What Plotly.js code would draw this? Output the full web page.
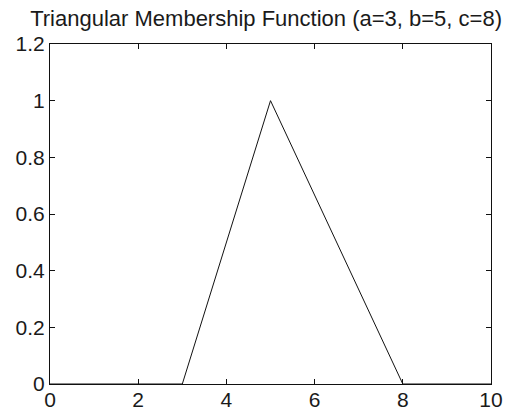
<!DOCTYPE html>
<html>
<head>
<meta charset="utf-8">
<script src="https://cdn.plot.ly/plotly-3.0.1.min.js"></script>
<style>
  html, body { margin: 0; padding: 0; background: #fff; }
  #chart { width: 508px; height: 414px; }
</style>
</head>
<body>
<div id="chart"></div>
<script>
// Triangular membership function with a=3, b=5, c=8
const xValues = [0, 3, 5, 8, 10];
const muValues = [0, 0, 1, 0, 0];
const xTicks = [0, 2, 4, 6, 8, 10];
const yTicks = [0, 0.2, 0.4, 0.6, 0.8, 1, 1.2];

const FONT = 'Liberation Sans, Arial, Helvetica, sans-serif';

const trace = {
  x: xValues,
  y: muValues,
  type: 'scatter',
  mode: 'lines',
  line: { color: '#111', width: 1 },
  hoverinfo: 'none'
};

const axisStyle = {
  showgrid: false,
  zeroline: false,
  showline: true,
  mirror: 'ticks',
  linecolor: '#111',
  linewidth: 1,
  ticks: 'inside',
  ticklen: 5,
  tickwidth: 1,
  tickcolor: '#111',
  tickfont: { family: FONT, size: 21, color: '#1a1a1a' }
};

const layout = {
  width: 508,
  height: 414,
  margin: { l: 50, r: 17, t: 44, b: 30, pad: 0 },
  paper_bgcolor: '#fff',
  plot_bgcolor: '#fff',
  showlegend: false,
  title: {
    text: 'Triangular Membership Function (a=3, b=5, c=8)',
    font: { family: FONT, size: 22, color: '#1a1a1a' },
    xref: 'paper',
    x: 0.49,
    xanchor: 'center',
    yref: 'container',
    y: 1 - 18 / 414,
    yanchor: 'middle'
  },
  xaxis: Object.assign({}, axisStyle, {
    range: [0, 10],
    tickvals: xTicks,
    ticktext: xTicks.map(String),
    ticklabelstandoff: -3
  }),
  yaxis: Object.assign({}, axisStyle, {
    range: [0, 1.2],
    tickvals: yTicks,
    ticktext: yTicks.map(String),
    ticklabelstandoff: 0
  })
};

Plotly.newPlot('chart', [trace], layout, { staticPlot: true, displayModeBar: false });
</script>
</body>
</html>
